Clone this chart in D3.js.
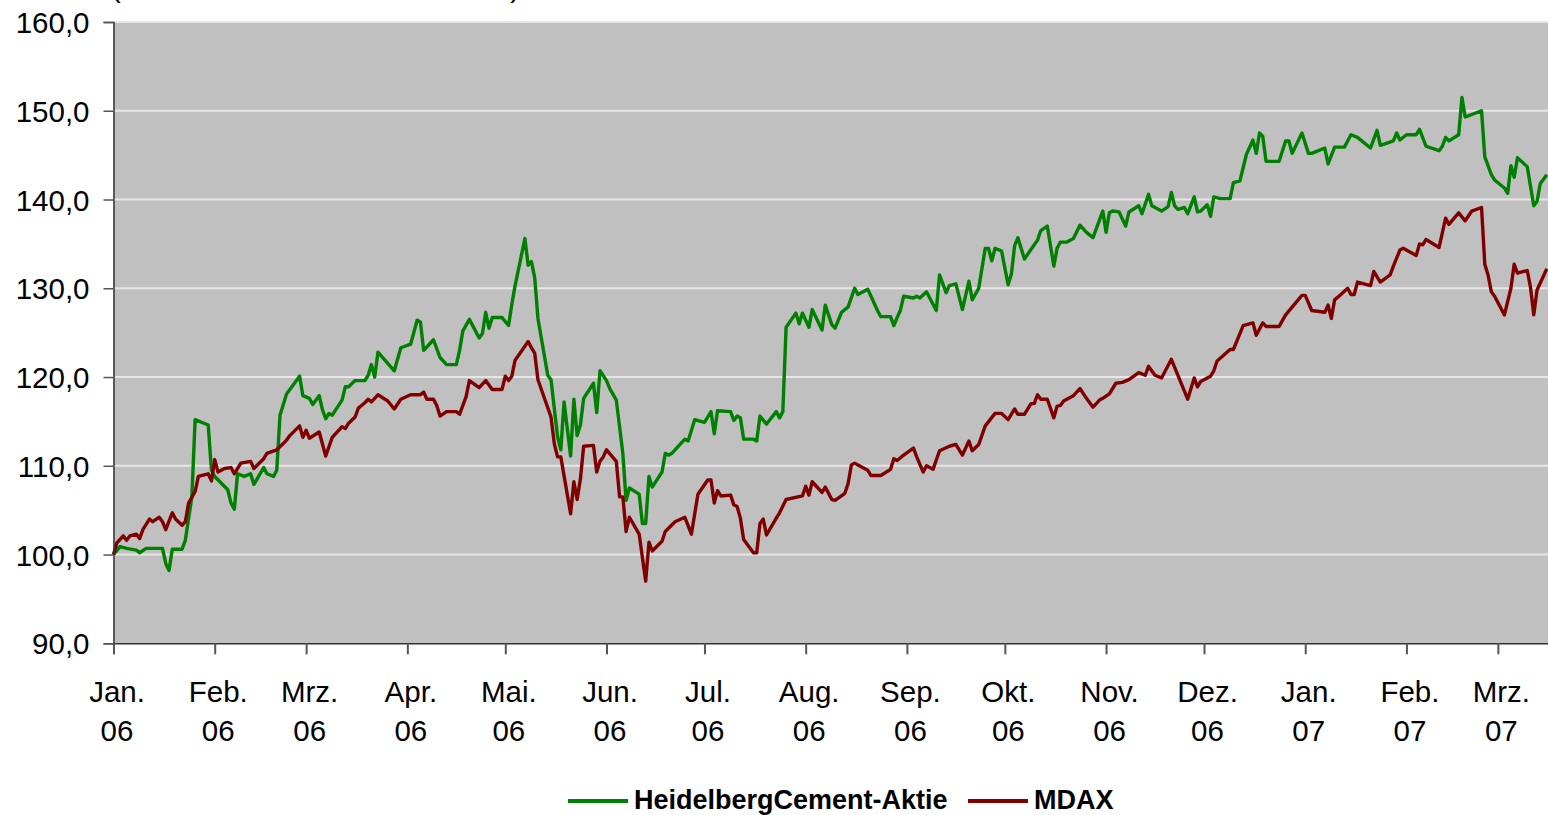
<!DOCTYPE html>
<html lang="de">
<head>
<meta charset="utf-8">
<script src="https://cdn.jsdelivr.net/npm/d3@7"></script>
<style>
  html, body { margin: 0; padding: 0; background: #fff; overflow: hidden; }
  svg { display: block; font-family: "Liberation Sans", Arial, sans-serif; }
</style>
</head>
<body>
<svg id="chart" width="1548" height="815"></svg>
<script>
'use strict';

// ─── Daten (Index, 01.01.2006 = Tag 0) ───────────────────────────────────
const hcDays = [0, 2, 4, 7, 8, 10, 15, 16, 17, 18, 21, 22, 24, 25, 29, 30, 31, 35, 36, 37,
  38, 40, 42, 43, 46, 47, 49, 50, 51, 53, 57, 58, 60, 61, 63, 64, 65, 66, 67, 70,
  71, 72, 74, 77, 78, 79, 80, 81, 86, 88, 91, 93, 94, 95, 98, 100, 102, 105, 106, 107,
  109, 112, 113, 114, 115, 116, 119, 121, 122, 123, 126, 127, 128, 129, 130, 133, 134, 136, 137, 138,
  140, 141, 142, 143, 144, 147, 148, 149, 151, 152, 154, 156, 157, 158, 161, 162, 163, 164, 165, 168,
  169, 170, 171, 175, 176, 178, 181, 183, 184, 185, 189, 190, 191, 192, 193, 196, 197, 198, 200, 203,
  204, 205, 206, 209, 210, 211, 213, 214, 217, 218, 220, 221, 223, 225, 227, 228, 231, 232, 234, 235,
  238, 239, 240, 241, 242, 245, 246, 247, 249, 252, 253, 255, 256, 258, 260, 262, 263, 265, 267, 268,
  269, 270, 272, 274, 275, 276, 277, 279, 282, 283, 284, 286, 288, 289, 290, 292, 294, 296, 298, 300,
  303, 304, 305, 306, 308, 310, 311, 314, 315, 317, 318, 321, 323, 324, 325, 326, 328, 329, 331, 332,
  333, 335, 336, 337, 339, 342, 343, 345, 347, 349, 350, 351, 352, 353, 357, 359, 360, 361, 364, 366,
  367, 371, 372, 374, 377, 379, 381, 385, 387, 388, 392, 393, 394, 396, 399, 400, 402, 406, 407, 408,
  409, 412, 413, 414, 419, 420, 422, 423, 426, 427, 428, 429, 430, 433, 435, 436, 437, 439];
const hcValues = [100.0, 100.9, 100.7, 100.5, 100.2, 100.7, 100.7, 99.0, 98.2, 100.6, 100.6, 101.6, 106.5, 115.2, 114.6, 109.5, 108.8, 107.3, 105.8, 105.1,
  109.1, 108.8, 109.1, 107.9, 109.8, 109.1, 108.8, 109.5, 115.7, 118.1, 120.1, 117.9, 117.6, 116.9, 117.9, 116.3, 115.3, 115.9, 115.7, 117.4,
  118.9, 118.9, 119.6, 119.6, 120.2, 121.4, 120.0, 122.8, 120.7, 123.3, 123.7, 126.4, 126.2, 123.0, 124.2, 122.2, 121.4, 121.4, 123.0, 125.2,
  126.5, 124.4, 124.9, 127.3, 125.5, 126.7, 126.7, 125.8, 128.2, 130.3, 135.6, 132.6, 133.0, 131.2, 126.6, 120.2, 119.7, 113.3, 111.8, 117.2,
  111.1, 117.5, 113.4, 114.6, 117.6, 119.3, 116.0, 120.7, 119.6, 118.7, 117.4, 111.4, 106.1, 107.5, 106.8, 103.5, 103.5, 108.8, 107.6, 109.3,
  111.4, 111.2, 111.4, 113.0, 112.8, 115.2, 114.9, 116.1, 113.6, 116.2, 116.1, 115.1, 115.6, 115.4, 113.0, 113.0, 112.8, 115.6, 114.7, 116.1,
  115.4, 116.1, 125.6, 127.2, 126.0, 127.2, 125.6, 127.6, 125.3, 128.1, 125.9, 125.5, 127.3, 127.9, 130.0, 129.3, 129.9, 129.1, 127.5, 126.8,
  126.8, 125.8, 126.7, 127.5, 129.1, 128.9, 129.1, 128.9, 129.6, 127.5, 131.5, 129.5, 130.3, 130.5, 127.6, 130.8, 128.7, 130.0, 134.5, 134.5,
  133.1, 134.5, 134.2, 130.4, 131.6, 134.8, 135.7, 133.3, 134.9, 135.4, 136.5, 137.0, 132.5, 134.5, 135.2, 135.2, 135.6, 137.1, 136.3, 135.7,
  138.7, 136.3, 138.5, 138.7, 138.6, 137.0, 138.6, 139.3, 138.4, 140.6, 139.3, 138.7, 139.2, 140.8, 139.3, 138.9, 139.1, 138.4, 140.3, 138.6,
  138.7, 139.4, 138.1, 140.3, 140.1, 140.1, 141.9, 142.1, 145.1, 146.7, 145.2, 147.5, 147.1, 144.3, 144.3, 146.6, 146.6, 145.2, 147.5, 145.2,
  145.2, 145.8, 144.0, 145.9, 145.9, 147.3, 147.0, 145.8, 147.8, 146.1, 146.6, 147.5, 146.7, 147.3, 147.3, 147.9, 146.0, 145.5, 146.0, 147.0,
  146.6, 147.3, 151.5, 149.3, 150.0, 144.8, 142.8, 142.2, 141.3, 140.7, 143.8, 142.5, 144.7, 143.7, 139.3, 139.8, 141.8, 142.8];

const mdaxDays = [0, 1, 3, 4, 5, 7, 8, 9, 11, 12, 14, 15, 16, 18, 19, 21, 22, 23, 25, 26,
  29, 30, 31, 32, 34, 36, 37, 39, 42, 43, 46, 47, 50, 52, 53, 54, 57, 58, 59, 60,
  63, 65, 67, 70, 71, 72, 74, 75, 77, 78, 79, 81, 84, 86, 88, 91, 94, 95, 96, 98,
  99, 100, 102, 105, 106, 108, 109, 112, 114, 116, 119, 120, 121, 122, 123, 127, 128, 129, 130, 134,
  135, 136, 137, 140, 141, 142, 143, 144, 147, 148, 149, 150, 151, 154, 155, 156, 157, 158, 161, 163,
  164, 165, 168, 169, 172, 175, 177, 179, 182, 183, 184, 185, 186, 189, 190, 191, 192, 193, 196, 197,
  198, 199, 200, 203, 204, 206, 211, 212, 213, 214, 217, 218, 220, 221, 224, 225, 226, 227, 228, 231,
  232, 235, 238, 239, 240, 242, 245, 246, 248, 249, 251, 253, 256, 258, 260, 262, 263, 265, 267, 270,
  272, 274, 276, 277, 279, 281, 282, 283, 284, 286, 288, 289, 290, 291, 294, 296, 298, 300, 302, 303,
  305, 307, 309, 311, 314, 316, 317, 319, 321, 324, 329, 331, 332, 333, 336, 337, 338, 342, 343, 346,
  349, 350, 352, 353, 357, 359, 364, 365, 367, 371, 372, 373, 374, 375, 378, 379, 380, 381, 385, 386,
  388, 391, 392, 394, 395, 399, 400, 401, 402, 406, 408, 409, 412, 414, 416, 419, 420, 421, 422, 423,
  426, 428, 429, 430, 433, 434, 435, 436, 439];
const mdaxValues = [100.0, 101.3, 102.1, 101.6, 102.1, 102.3, 101.8, 102.8, 104.0, 103.7, 104.2, 103.7, 102.8, 104.7, 104.0, 103.3, 103.7, 105.8, 107.1, 108.8,
  109.1, 108.3, 110.7, 109.3, 109.7, 109.8, 109.1, 110.3, 110.5, 109.7, 110.8, 111.4, 111.8, 112.5, 112.9, 113.4, 114.5, 113.2, 114.0, 113.1,
  113.8, 111.1, 113.2, 114.4, 114.2, 114.8, 115.5, 116.5, 117.1, 117.5, 117.2, 118.0, 117.3, 116.4, 117.5, 118.0, 118.0, 118.3, 117.5, 117.5,
  116.8, 115.6, 116.1, 116.1, 115.8, 117.8, 119.6, 118.8, 119.6, 118.6, 118.6, 120.1, 119.6, 120.1, 121.9, 124.0, 123.3, 122.7, 119.7, 115.5,
  112.5, 111.0, 111.0, 104.6, 108.2, 106.2, 108.5, 112.2, 112.3, 109.3, 110.5, 111.0, 111.8, 110.5, 106.5, 106.5, 102.6, 104.2, 102.3, 97.0,
  101.4, 100.4, 101.5, 102.6, 103.7, 104.2, 102.3, 106.8, 108.4, 108.4, 105.8, 107.2, 106.6, 106.7, 105.6, 105.4, 104.1, 101.7, 100.2, 100.2,
  103.5, 104.0, 102.2, 104.1, 104.7, 106.2, 106.6, 107.7, 106.7, 108.2, 107.0, 107.6, 106.2, 106.1, 106.9, 108.0, 110.1, 110.3, 110.1, 109.5,
  108.9, 108.9, 109.6, 110.8, 110.6, 111.2, 112.0, 111.0, 109.3, 110.0, 109.6, 111.7, 112.2, 112.4, 111.2, 112.8, 111.7, 112.4, 114.5, 115.9,
  115.9, 115.2, 116.4, 115.8, 115.8, 117.0, 117.0, 118.0, 117.5, 117.5, 115.4, 116.7, 116.8, 117.3, 117.9, 118.7, 117.6, 116.6, 117.4, 117.6,
  118.1, 119.3, 119.4, 119.7, 120.5, 120.2, 121.2, 120.2, 119.9, 122.0, 117.5, 119.9, 118.9, 119.5, 120.1, 120.7, 121.8, 123.1, 123.1, 125.8,
  126.1, 124.7, 126.1, 125.7, 125.7, 127.0, 129.2, 129.2, 127.5, 127.3, 128.1, 126.6, 128.7, 129.0, 130.0, 129.3, 129.3, 130.7, 130.3, 131.9,
  130.7, 131.5, 132.5, 134.3, 134.5, 133.7, 135.0, 134.9, 135.5, 134.6, 137.9, 137.2, 138.5, 137.6, 138.7, 139.1, 132.7, 131.5, 129.6, 129.1,
  127.0, 130.0, 132.7, 131.7, 132.0, 130.1, 127.0, 129.8, 132.2];

const monthLabels = ['Jan.', 'Feb.', 'Mrz.', 'Apr.', 'Mai.', 'Jun.', 'Jul.', 'Aug.', 'Sep.', 'Okt.', 'Nov.', 'Dez.'];
const yTicks = [90, 100, 110, 120, 130, 140, 150, 160];
const seriesNames = ['HeidelbergCement-Aktie', 'MDAX'];
const seriesColors = ['#008000', '#800000'];
const subtitle = '(Index: 02.01.2006 = 100)';

// ─── Aufbau ───────────────────────────────────────────────────────────────
const W = 1548, H = 815;
const plot = { left: 113.5, top: 22, bottom: 643.3 };
const start = new Date(Date.UTC(2006, 0, 1));
const end   = new Date(Date.UTC(2007, 2, 31));

const x = d3.scaleUtc().domain([start, end]).range([plot.left, plot.left + 454 * 3.265]);
const y = d3.scaleLinear().domain([90, 160]).range([plot.bottom, plot.top]);

const de = d3.formatLocale({ decimal: ',', thousands: '.', grouping: [3], currency: ['', ' €'] });
const fmt = de.format('.1f');

const svg = d3.select('#chart');

// Untertitel – im Original oben abgeschnitten
svg.append('text')
  .attr('x', 111).attr('y', -3)
  .attr('textLength', 409).attr('lengthAdjust', 'spacing')
  .attr('font-size', 29).attr('fill', '#000')
  .text(subtitle);

svg.append('rect')
  .attr('x', plot.left).attr('y', plot.top)
  .attr('width', W - plot.left).attr('height', plot.bottom - plot.top)
  .attr('fill', '#c0c0c0');

// Gitternetz
svg.append('g')
  .selectAll('line').data(yTicks.slice(1)).join('line')
  .attr('x1', plot.left).attr('x2', W)
  .attr('y1', d => y(d)).attr('y2', d => y(d))
  .attr('stroke', '#e6e6e6').attr('stroke-width', 2);

// Linien
const toPoints = (days, vals) => days.map((d, i) => ({ date: d3.utcDay.offset(start, d), v: vals[i] }));
const line = d3.line().x(d => x(d.date)).y(d => y(d.v));

[[hcDays, hcValues], [mdaxDays, mdaxValues]].forEach(([days, vals], i) => {
  svg.append('path')
    .datum(toPoints(days, vals))
    .attr('fill', 'none')
    .attr('stroke', seriesColors[i])
    .attr('stroke-width', 3.4)
    .attr('stroke-linejoin', 'round')
    .attr('d', line);
});

// Y-Achse
const yAxis = svg.append('g')
  .attr('transform', `translate(${plot.left},0)`)
  .call(d3.axisLeft(y).tickValues(yTicks).tickFormat(fmt).tickSize(10).tickPadding(14));
yAxis.attr('font-family', null);
yAxis.select('.domain').attr('stroke', '#333').attr('stroke-width', 1.5);
yAxis.selectAll('.tick line').attr('stroke', '#555').attr('stroke-width', 1.5);
yAxis.selectAll('.tick text')
  .attr('font-size', 29.5).attr('fill', '#000').attr('dy', '0.36em');

// X-Achse
const months = d3.utcMonth.range(start, end);
const xAxis = svg.append('g')
  .attr('transform', `translate(0,${plot.bottom})`)
  .call(d3.axisBottom(x).tickValues(months).tickSize(11).tickFormat(''));
xAxis.attr('font-family', null);
xAxis.select('.domain').attr('stroke', '#333').attr('stroke-width', 1.5);
xAxis.selectAll('.tick line').attr('stroke', '#555').attr('stroke-width', 2);

const labels = xAxis.selectAll('.tick text')
  .attr('font-size', 29.5).attr('fill', '#000').attr('text-anchor', 'middle')
  .attr('x', 3).attr('y', 0).attr('dy', null);
labels.each(function (d) {
  const t = d3.select(this);
  t.append('tspan').attr('x', 3).attr('y', 58.5).text(monthLabels[d.getUTCMonth()]);
  t.append('tspan').attr('x', 3).attr('y', 97.5).text(String(d.getUTCFullYear() % 100).padStart(2, '0'));
});

// Legende
const legend = [
  { x: 568, textX: 634 },
  { x: 968, textX: 1034 }
];
const lg = svg.append('g');
legend.forEach((l, i) => {
  lg.append('line')
    .attr('x1', l.x).attr('x2', l.x + 60)
    .attr('y1', 801).attr('y2', 801)
    .attr('stroke', seriesColors[i]).attr('stroke-width', 4);
  lg.append('text')
    .attr('x', l.textX).attr('y', 808.5)
    .attr('font-size', 27).attr('font-weight', 'bold').attr('fill', '#000')
    .text(seriesNames[i]);
});
</script>
</body>
</html>
